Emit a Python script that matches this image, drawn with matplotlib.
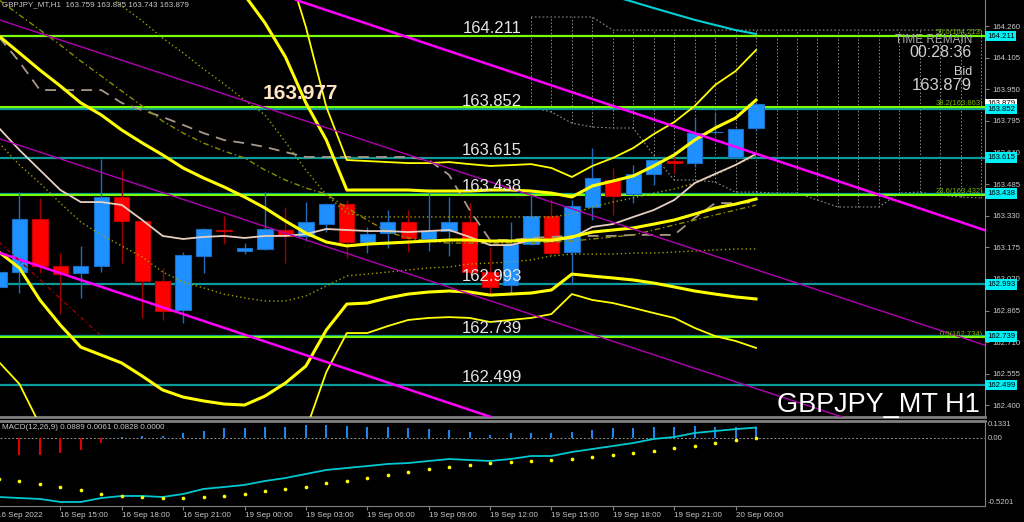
import numpy as np
import matplotlib.pyplot as plt
from matplotlib.transforms import blended_transform_factory

plt.rcParams['font.family'] = ['Liberation Sans', 'DejaVu Sans']

# H1 bars: index 0 = 16 Sep 12:00 ... index 37 = 20 Sep 01:00
opens = [162.981, 163.054, 163.314, 163.084, 163.049, 163.084, 163.422, 163.304, 163.010, 162.868,
         163.132, 163.262, 163.157, 163.167, 163.260, 163.231, 163.289, 163.387, 163.201, 163.245,
         163.299, 163.216, 163.255, 163.299, 163.054, 162.990, 163.191, 163.329, 163.152, 163.373,
         163.505, 163.436, 163.535, 163.598, 163.588, 163.738, 163.618, 163.759]
highs = [163.070, 163.446, 163.417, 163.147, 163.182, 163.608, 163.554, 163.309, 163.074, 163.152,
         163.270, 163.329, 163.196, 163.446, 163.373, 163.397, 163.392, 163.407, 163.275, 163.358,
         163.358, 163.446, 163.422, 163.392, 163.177, 163.299, 163.432, 163.412, 163.407, 163.662,
         163.564, 163.579, 163.608, 163.618, 163.814, 163.838, 163.760, 163.885]
lows = [162.960, 162.951, 163.049, 162.848, 162.927, 163.054, 163.098, 162.829, 162.819, 162.804,
        163.049, 163.191, 163.142, 163.162, 163.098, 163.206, 163.250, 163.123, 163.147, 163.172,
        163.152, 163.157, 163.132, 163.039, 162.946, 162.946, 163.186, 163.137, 162.990, 163.309,
        163.334, 163.392, 163.481, 163.539, 163.569, 163.736, 163.613, 163.743]
closes = [163.054, 163.314, 163.084, 163.044, 163.084, 163.422, 163.304, 163.010, 162.863, 163.137,
          163.265, 163.257, 163.172, 163.265, 163.231, 163.299, 163.387, 163.201, 163.240, 163.299,
          163.221, 163.255, 163.299, 163.054, 162.981, 163.191, 163.329, 163.147, 163.378, 163.515,
          163.427, 163.535, 163.603, 163.588, 163.735, 163.741, 163.755, 163.879]

# bollinger bands (2 and 3 dev)
bb_mid = [164.211, 164.128, 164.044, 163.966, 163.883, 163.824, 163.750, 163.687, 163.628, 163.564,
          163.515, 163.471, 163.422, 163.368, 163.304, 163.245, 163.201, 163.182, 163.191, 163.196,
          163.201, 163.206, 163.211, 163.211, 163.206, 163.206, 163.211, 163.211, 163.226, 163.250,
          163.260, 163.270, 163.289, 163.309, 163.338, 163.368, 163.387, 163.412]
bb_up2 = [165.270, 165.182, 165.172, 165.138, 165.079, 165.000, 164.892, 164.829, 164.780, 164.687,
          164.608, 164.535, 164.412, 164.275, 164.108, 163.883, 163.701, 163.456, 163.456, 163.456,
          163.456, 163.451, 163.451, 163.451, 163.456, 163.456, 163.451, 163.441, 163.422, 163.476,
          163.500, 163.525, 163.574, 163.628, 163.701, 163.760, 163.809, 163.897]
bb_lo2 = [163.152, 163.074, 162.917, 162.794, 162.686, 162.647, 162.608, 162.544, 162.476, 162.441,
          162.422, 162.407, 162.402, 162.446, 162.510, 162.593, 162.770, 162.897, 162.902, 162.927,
          162.946, 162.956, 162.961, 162.956, 162.941, 162.946, 162.951, 162.966, 163.044, 163.034,
          163.025, 163.015, 163.000, 162.981, 162.961, 162.946, 162.932, 162.922]
bb_up3 = [165.80, 165.71, 165.74, 165.72, 165.68, 165.59, 165.46, 165.40, 165.36, 165.25,
          165.15, 165.07, 164.91, 164.73, 164.58, 164.255, 163.863, 163.603, 163.598, 163.593,
          163.588, 163.588, 163.593, 163.583, 163.574, 163.578, 163.583, 163.564, 163.520, 163.574,
          163.613, 163.662, 163.730, 163.789, 163.868, 163.971, 164.039, 164.142]
bb_lo3 = [162.613, 162.505, 162.304, 162.20, 162.08, 162.06, 162.05, 161.97, 161.90, 161.88,
          161.87, 161.87, 161.88, 161.98, 162.11, 162.28, 162.564, 162.755, 162.755, 162.789,
          162.819, 162.829, 162.833, 162.829, 162.809, 162.819, 162.829, 162.848, 162.946, 162.917,
          162.902, 162.878, 162.853, 162.829, 162.780, 162.740, 162.716, 162.682]

# moving averages / other lines
ma_fast = [163.760, 163.652, 163.554, 163.456, 163.397, 163.397, 163.383, 163.309, 163.231, 163.216,
           163.226, 163.231, 163.221, 163.231, 163.231, 163.240, 163.265, 163.260, 163.255, 163.255,
           163.250, 163.255, 163.260, 163.226, 163.186, 163.186, 163.211, 163.206, 163.221, 163.275,
           163.289, 163.324, 163.358, 163.407, 163.490, 163.535, 163.579, 163.633]
ma_slow = [163.687, 163.579, 163.490, 163.392, 163.299, 163.236, 163.182, 163.128, 163.054, 163.005,
           162.976, 162.946, 162.927, 162.912, 162.912, 162.937, 162.986, 163.035, 163.044, 163.054,
           163.064, 163.074, 163.079, 163.093, 163.098, 163.103, 163.113, 163.133, 163.142, 163.142,
           163.142, 163.147, 163.147, 163.152, 163.157, 163.162, 163.167, 163.167]
env_dot = [164.819, 164.740, 164.667, 164.588, 164.510, 164.437, 164.358, 164.285, 164.201, 164.128,
           164.049, 163.976, 163.897, 163.824, 163.691, 163.554, 163.432, 163.343, 163.324, 163.324,
           163.324, 163.324, 163.324, 163.324, 163.324, 163.324, 163.324, 163.324, 163.338, 163.373,
           163.397, 163.417, 163.441, 163.461, 163.490, 163.530, 163.579, 163.623]
ma_dashdot = [164.388, 164.314, 164.241, 164.167, 164.088, 164.015, 163.941, 163.868, 163.794, 163.735,
              163.686, 163.647, 163.613, 163.554, 163.505, 163.466, 163.436, 163.368, 163.309, 163.250,
              163.221, 163.206, 163.196, 163.196, 163.196, 163.196, 163.196, 163.201, 163.206, 163.216,
              163.226, 163.236, 163.260, 163.285, 163.309, 163.334, 163.358, 163.382]
kijun = [164.206, 164.084, 163.946, 163.946, 163.946, 163.946, 163.883, 163.848, 163.814, 163.775,
         163.735, 163.701, 163.686, 163.667, 163.642, 163.618, 163.618, 163.618, 163.618, 163.618,
         163.618, 163.603, 163.530, 163.358, 163.211, 163.211, 163.221, 163.226, 163.231, 163.231,
         163.231, 163.236, 163.236, 163.236, 163.319, 163.392, 163.392, 163.397]
senkou_idx = [29, 30, 31, 32, 33, 34, 35, 36, 37]
senkou = [164.437, 164.407, 164.378, 164.348, 164.319, 164.290, 164.265, 164.240, 164.221]

# kumo (dotted cloud), bars 26..48
kumo_idx = list(range(26, 49))
kumo_top = [164.304, 164.304, 164.304, 164.304, 164.240, 164.240, 164.240, 164.240, 164.240, 164.240,
            164.240, 164.240, 164.240, 164.240, 164.240, 164.240, 164.240, 164.240, 164.240, 164.240,
            164.240, 164.240, 164.240]
kumo_bot = [163.863, 163.838, 163.784, 163.765, 163.760, 163.760, 163.627, 163.505, 163.505, 163.495,
            163.446, 163.446, 163.441, 163.441, 163.407, 163.373, 163.373, 163.373, 163.441, 163.446,
            163.431, 163.422, 163.417]

# horizontal levels and fibo
levels = [164.211, 163.852, 163.615, 163.438, 162.993, 162.739, 162.499]
fib_pct = ['50.0', '38.2', '23.6', '0.0']
fib_prices = [164.213, 163.863, 163.432, 162.734]

# trend lines (bar index, price) anchors
chan_top = [(14, 164.405), (37, 163.634)]
chan_bot = [(0, 163.149), (24, 162.345)]
thin_top = [(0, 164.291), (37, 163.066)]
thin_bot = [(0, 163.708), (37, 162.483)]
red_seg = [(0, 163.201), (5, 162.740)]

# MACD panel
macd_hist = [-0.140, -0.128, -0.128, -0.113, -0.090, -0.036, 0.012, 0.018, 0.021, 0.041,
             0.056, 0.079, 0.081, 0.089, 0.089, 0.102, 0.102, 0.094, 0.089, 0.089,
             0.079, 0.071, 0.064, 0.048, 0.025, 0.041, 0.043, 0.038, 0.051, 0.064,
             0.077, 0.081, 0.089, 0.089, 0.094, 0.089, 0.084, 0.0889]
macd_line = [-0.451, -0.459, -0.466, -0.489, -0.489, -0.459, -0.443, -0.443, -0.451, -0.428,
             -0.389, -0.374, -0.358, -0.328, -0.305, -0.274, -0.243, -0.228, -0.213, -0.197,
             -0.190, -0.174, -0.159, -0.167, -0.174, -0.159, -0.136, -0.136, -0.105, -0.082,
             -0.059, -0.036, -0.005, 0.010, 0.041, 0.056, 0.071, 0.0828]
macd_dots = [-0.313, -0.328, -0.351, -0.374, -0.397, -0.428, -0.443, -0.451, -0.459, -0.459,
             -0.451, -0.443, -0.428, -0.405, -0.389, -0.374, -0.343, -0.328, -0.305, -0.282,
             -0.259, -0.236, -0.220, -0.205, -0.190, -0.182, -0.174, -0.167, -0.159, -0.144,
             -0.128, -0.113, -0.098, -0.074, -0.059, -0.036, -0.013, 0.0061]

price_ticks = [164.260, 164.105, 163.950, 163.795, 163.640, 163.485, 163.330, 163.175,
               163.020, 162.865, 162.710, 162.555, 162.400]
time_ticks = [3, 6, 9, 12, 15, 18, 21, 24, 27, 30, 33, 36]
time_labels = ['16 Sep 15:00', '16 Sep 18:00', '16 Sep 21:00', '19 Sep 00:00', '19 Sep 03:00',
               '19 Sep 06:00', '19 Sep 09:00', '19 Sep 12:00', '19 Sep 15:00', '19 Sep 18:00',
               '19 Sep 21:00', '20 Sep 00:00']

GRID = '#808080'
TXT = '#c8c8c8'

fig = plt.figure(figsize=(10.24, 5.22), dpi=100, facecolor='black')
ax = fig.add_axes([0, 1 - 417 / 522, 985 / 1024, 417 / 522], facecolor='black')
ax2 = fig.add_axes([0, 1 - 506 / 522, 985 / 1024, 85 / 522], facecolor='black')

idx = np.arange(len(opens))
o = np.array(opens)
c = np.array(closes)
h = np.array(highs)
l = np.array(lows)

# cloud
ax.vlines(kumo_idx, kumo_bot, kumo_top, colors='#8c8c8c', linestyles=(0, (1.5, 2)), lw=0.7, zorder=1)
ax.plot(kumo_idx, kumo_top, color='#8c8c8c', ls=(0, (1.5, 2)), lw=0.8, zorder=1)
ax.plot(kumo_idx, kumo_bot, color='#8c8c8c', ls=(0, (1.5, 2)), lw=0.8, zorder=1)

# horizontal lines
for lv in levels:
    ax.axhline(lv, color='#0c9a9a', lw=1.6, zorder=2)
for fp in fib_prices:
    ax.axhline(fp, color='#7cfc00', lw=1.5, zorder=2.1)

# candles
up = c >= o
for mask, face, edge, wick in [(up, '#1e90ff', '#1a6fc4', '#1f6cb8'),
                               (~up, '#ff0000', '#c40000', '#a00000')]:
    ax.vlines(idx[mask], l[mask], h[mask], color=wick, lw=1, zorder=3)
    ax.bar(idx[mask], np.abs(c - o)[mask], bottom=np.minimum(o, c)[mask], width=0.75,
           color=face, edgecolor=edge, lw=0.8, zorder=3.1)

# indicators
ax.plot(idx, kijun, color='#a89888', ls=(0, (6, 4)), lw=1.3, zorder=4)
ax.plot(idx, ma_slow, color='#a0a000', ls=(0, (1, 2)), lw=1.0, zorder=4)
ax.plot(idx, env_dot, color='#a0a000', ls=(0, (1, 2)), lw=1.0, zorder=4)
ax.plot(idx, ma_dashdot, color='#8c8c00', ls=(0, (4, 2, 1, 2)), lw=1.0, zorder=4)
ax.plot(idx, ma_fast, color='#e6cfc0', lw=1.3, zorder=4.2)
ax.plot(senkou_idx, senkou, color='#00d0d8', lw=1.5, zorder=4)
for band in (bb_up3, bb_lo3):
    ax.plot(idx, band, color='#ffff00', lw=1.3, zorder=4.3)
for band in (bb_mid, bb_up2, bb_lo2):
    ax.plot(idx, band, color='#ffff00', lw=2.2, zorder=4.4)

# trend lines
ax.axline(chan_top[0], chan_top[1], color='#ff00ff', lw=1.8, zorder=4.5)
ax.axline(chan_bot[0], chan_bot[1], color='#ff00ff', lw=1.8, zorder=4.5)
ax.axline(thin_top[0], thin_top[1], color='#b000b0', lw=1.0, zorder=4.5)
ax.axline(thin_bot[0], thin_bot[1], color='#b000b0', lw=1.0, zorder=4.5)
ax.plot([p[0] for p in red_seg], [p[1] for p in red_seg], color='#9a0000',
        ls=(0, (3, 2, 1, 2)), lw=1.0, zorder=4.5)

ax.set_xlim(0.05, 48.19)
ax.set_ylim(164.3875 - 417 / 204, 164.3875)

# level labels over the chart
for lv in levels:
    ax.text(24.1, lv + 0.015, f'{lv:.3f}', color='#e6e6e6', fontsize=12,
            ha='center', va='baseline', zorder=6)
for pct, fp in zip(fib_pct, fib_prices):
    ax.text(48.09, fp + 0.008, f'{pct}({fp:.3f})', color='#78b400', fontsize=5.5,
            ha='right', va='baseline', zorder=6)

ax.text(14.71, 163.927, '163.977', color='#ffe4c4', fontsize=15, fontweight='bold',
        ha='center', va='center', zorder=6)
ax.text(47.95, 162.368, 'GBPJPY_MT H1', color='white', fontsize=19.5,
        ha='right', va='baseline', zorder=6)

# timer block
fig.text(972 / 1024, 1 - 43 / 522, 'TIME REMAIN', color='#a8a8a8', fontsize=8.5, ha='right', va='baseline')
fig.text(972 / 1024, 1 - 57 / 522, '00:28:36', color='#d0d0d0', fontsize=11.5, ha='right', va='baseline')
fig.text(972 / 1024, 1 - 75 / 522, 'Bid', color='#d0d0d0', fontsize=9, ha='right', va='baseline')
fig.text(972 / 1024, 1 - 90 / 522, '163.879', color='#d0d0d0', fontsize=12, ha='right', va='baseline')

ax.text(0.002, 0.997, 'GBPJPY_MT,H1  163.759 163.885 163.743 163.879', transform=ax.transAxes,
        color=TXT, fontsize=5.8, ha='left', va='top', zorder=6)

# price axis
ax.yaxis.tick_right()
ax.set_yticks(price_ticks)
ax.set_yticklabels([f'{t:.3f}' for t in price_ticks])
ax.tick_params(axis='y', colors=GRID, labelcolor=TXT, labelsize=5.6, length=3, pad=2)
ax.set_xticks([])
for s in ('left', 'top'):
    ax.spines[s].set_visible(False)
ax.spines['right'].set_color(GRID)
ax.spines['bottom'].set_color(GRID)
ax.spines['bottom'].set_linewidth(2)

tr = blended_transform_factory(ax.transAxes, ax.transData)
ax.text(1.002, closes[-1], f'{closes[-1]:.3f}', transform=tr, color='black', fontsize=5.6,
        ha='left', va='center', bbox=dict(boxstyle='square,pad=0.22', fc='white', ec='none'), zorder=9)
for lv in levels:
    ax.text(1.002, lv, f'{lv:.3f}', transform=tr, color='black', fontsize=5.6, ha='left', va='center',
            bbox=dict(boxstyle='square,pad=0.22', fc='#00f0f8', ec='none'), zorder=10)

# MACD panel
hist = np.array(macd_hist)
pos = hist >= 0
ax2.vlines(idx[pos], 0, hist[pos], color='#1e84e8', lw=1.5, zorder=3)
ax2.vlines(idx[~pos], 0, hist[~pos], color='#e00000', lw=1.5, zorder=3)
ax2.axhline(0, color='#909090', ls=(0, (2, 2)), lw=0.7, zorder=2)
ax2.plot(idx, macd_line, color='#00c8d0', lw=1.3, zorder=4)
ax2.scatter(idx, macd_dots, s=7, color='#ffff00', zorder=5, linewidths=0)
ax2.set_xlim(0.05, 48.19)
ax2.set_ylim(-0.5201, 0.1331)
ax2.set_yticks([])
ax2.text(0.002, 0.96, 'MACD(12,26,9) 0.0889 0.0061 0.0828 0.0000', transform=ax2.transAxes,
         color=TXT, fontsize=5.8, ha='left', va='top')
tr2 = blended_transform_factory(ax2.transAxes, ax2.transData)
ax2.text(1.003, 0.1331, '0.1331', transform=tr2, color=TXT, fontsize=5.6, ha='left', va='top')
ax2.text(1.003, 0.0, '0.00', transform=tr2, color=TXT, fontsize=5.6, ha='left', va='center')
ax2.text(1.003, -0.5201, '-0.5201', transform=tr2, color=TXT, fontsize=5.6, ha='left', va='bottom')

ax2.set_xticks(time_ticks)
ax2.set_xticklabels(time_labels)
for lbl in ax2.get_xticklabels():
    lbl.set_ha('left')
ax2.tick_params(axis='x', colors=GRID, labelcolor=TXT, labelsize=5.8, length=3, pad=1.5)
ax2.spines['left'].set_visible(False)
for s in ('top', 'bottom', 'right'):
    ax2.spines[s].set_color(GRID)
ax2.spines['top'].set_linewidth(2)
fig.text(-3 / 1024, 1 - 517 / 522, '16 Sep 2022', color=TXT, fontsize=5.8, ha='left', va='baseline')

fig.savefig('out.png', dpi=100, facecolor='black')
